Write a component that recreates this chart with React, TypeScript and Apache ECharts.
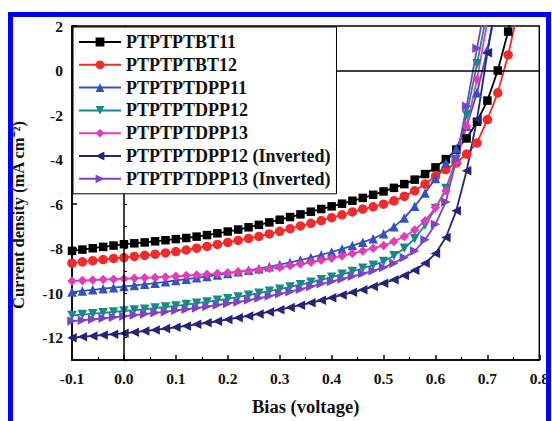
import React, { useEffect, useRef } from "react";
import * as echarts from "echarts";

const voltage = [
  -0.1, -0.08, -0.06, -0.04, -0.02, 0.0, 0.02, 0.04, 0.06, 0.08, 0.1, 0.12, 0.14, 0.16, 0.18, 0.2,
  0.22, 0.24, 0.26, 0.28, 0.3, 0.32, 0.34, 0.36, 0.38, 0.4, 0.42, 0.44, 0.46, 0.48, 0.5, 0.52,
  0.54, 0.56, 0.58, 0.6, 0.62, 0.64, 0.66, 0.68, 0.7, 0.72, 0.74, 0.76,
];

const bt11 = [
  -8.1, -8.04, -7.98, -7.92, -7.86, -7.8, -7.76, -7.72, -7.67, -7.62, -7.57, -7.52, -7.46, -7.39, -7.31, -7.23,
  -7.14, -7.04, -6.93, -6.82, -6.7, -6.58, -6.46, -6.34, -6.22, -6.1, -5.98, -5.85, -5.72, -5.58, -5.43, -5.27,
  -5.1, -4.9, -4.65, -4.35, -3.98, -3.55, -3.05, -2.3, -1.35, 0.0, 1.75, 3.6,
];
const bt12 = [
  -8.65, -8.59, -8.54, -8.49, -8.44, -8.4, -8.35, -8.3, -8.25, -8.19, -8.13, -8.06, -7.98, -7.9, -7.81, -7.72,
  -7.63, -7.54, -7.45, -7.34, -7.22, -7.1, -6.98, -6.86, -6.74, -6.61, -6.48, -6.35, -6.22, -6.12, -6.0, -5.85,
  -5.65, -5.4, -5.1, -4.75, -4.45, -4.15, -3.75, -3.25, -2.2, -1.0, 0.7, 2.8,
];
const dpp11 = [
  -9.95, -9.9, -9.85, -9.8, -9.75, -9.7, -9.65, -9.6, -9.55, -9.49, -9.43, -9.37, -9.31, -9.25, -9.18, -9.11,
  -9.04, -8.97, -8.9, -8.81, -8.72, -8.62, -8.51, -8.4, -8.28, -8.15, -8.01, -7.86, -7.71, -7.55, -7.33, -7.02,
  -6.62, -6.1, -5.5, -4.85, -4.15, -3.5, -2.5, -1.0, 0.95, 3.2,
];
const dpp12 = [
  -11.0, -10.96, -10.92, -10.88, -10.84, -10.8, -10.76, -10.72, -10.67, -10.62, -10.57, -10.51, -10.45, -10.39, -10.32, -10.25,
  -10.17, -10.09, -10.0, -9.91, -9.82, -9.72, -9.62, -9.51, -9.4, -9.28, -9.15, -9.02, -8.88, -8.74, -8.58, -8.32,
  -7.98, -7.55, -6.95, -6.2, -5.3, -4.0, -2.0, 0.3, 2.7,
];
const dpp13 = [
  -9.45, -9.43, -9.41, -9.39, -9.37, -9.35, -9.33, -9.31, -9.29, -9.27, -9.24, -9.21, -9.18, -9.15, -9.12, -9.08,
  -9.04, -9.0, -8.95, -8.89, -8.83, -8.76, -8.69, -8.61, -8.52, -8.43, -8.33, -8.22, -8.1, -7.98, -7.86, -7.68,
  -7.45, -7.16, -6.75, -6.15, -5.4, -4.1, -2.5, -0.4, 2.2,
];
const dpp12inv = [
  -12.0, -11.96, -11.92, -11.88, -11.84, -11.8, -11.75, -11.7, -11.65, -11.59, -11.53, -11.47, -11.4, -11.33, -11.26, -11.18,
  -11.1, -11.02, -10.93, -10.84, -10.74, -10.64, -10.54, -10.43, -10.32, -10.2, -10.08, -9.96, -9.84, -9.7, -9.55, -9.4,
  -9.2, -8.97, -8.66, -8.22, -7.5, -6.3, -4.5, -2.2, 0.8, 3.5,
];
const dpp13inv = [
  -11.25, -11.21, -11.17, -11.13, -11.08, -11.03, -10.98, -10.93, -10.88, -10.83, -10.77, -10.72, -10.66, -10.6, -10.53, -10.46,
  -10.39, -10.31, -10.22, -10.13, -10.03, -9.93, -9.82, -9.7, -9.58, -9.47, -9.36, -9.24, -9.12, -8.99, -8.85, -8.65,
  -8.4, -8.1, -7.6, -6.9, -5.9, -4.0, -1.6, 1.0, 3.5,
];

const seriesNames = [
  "PTPTPTBT11",
  "PTPTPTBT12",
  "PTPTPTDPP11",
  "PTPTPTDPP12",
  "PTPTPTDPP13",
  "PTPTPTDPP12 (Inverted)",
  "PTPTPTDPP13 (Inverted)",
];
const seriesValues = [bt11, bt12, dpp11, dpp12, dpp13, dpp12inv, dpp13inv];
const seriesColors = ["#000000", "#f42a2a", "#3550c0", "#178a88", "#e23cb8", "#24247a", "#7d43c6"];
const seriesSymbols = [
  "rect",
  "circle",
  "triangle",
  "path://M0,0 L10,0 L5,10 Z",
  "diamond",
  "path://M10,0 L10,10 L0,5 Z",
  "path://M0,0 L0,10 L10,5 Z",
];

const xTicks = [-0.1, 0.0, 0.1, 0.2, 0.3, 0.4, 0.5, 0.6, 0.7, 0.8];
const yTickLabels = [-12, -10, -8, -6, -4, -2, 0, 2];

const FONT = "'Liberation Serif', 'Times New Roman', serif";

export default function App() {
  const ref = useRef<HTMLDivElement>(null);
  useEffect(() => {
    if (!ref.current) return;
    const chart = echarts.init(ref.current, undefined, { renderer: "svg" });
    const series: any[] = seriesNames.map((name, i) => ({
      name,
      type: "line",
      data: seriesValues[i].map((v, k) => [voltage[k], v]),
      symbol: seriesSymbols[i],
      symbolSize: i === 0 ? 8.5 : 9.5,
      showSymbol: true,
      clip: true,
      itemStyle: { color: seriesColors[i] },
      lineStyle: { color: seriesColors[i], width: 1.8 },
      z: 3,
    }));
    series[0].markLine = {
      silent: true,
      symbol: "none",
      label: { show: false },
      lineStyle: { color: "#000", width: 1.5, type: "solid" },
      data: [{ xAxis: 0 }, { yAxis: 0 }],
    };
    chart.setOption({
      animation: false,
      backgroundColor: "#ffffff",
      graphic: [
        {
          type: "rect",
          shape: { x: 10.5, y: 14.5, width: 538, height: 430 },
          style: { fill: "none", stroke: "#0000ff", lineWidth: 5 },
          z: 100,
          silent: true,
        },
      ],
      grid: {
        left: 72,
        right: 11,
        top: 26,
        bottom: 55,
        show: true,
        borderColor: "#000",
        borderWidth: 1.5,
        backgroundColor: "transparent",
      },
      legend: {
        orient: "vertical",
        left: 73,
        top: 27,
        backgroundColor: "#ffffff",
        borderColor: "#000",
        borderWidth: 1,
        borderRadius: 0,
        padding: [6, 6, 6, 5],
        itemWidth: 42,
        itemHeight: 11,
        itemGap: 4.8,
        data: seriesNames,
        textStyle: { fontFamily: FONT, fontWeight: "bold", fontSize: 18, color: "#111" },
        z: 10,
      },
      xAxis: {
        type: "value",
        min: -0.1,
        max: 0.8,
        interval: 0.1,
        name: "Bias (voltage)",
        nameLocation: "middle",
        nameGap: 37,
        nameTextStyle: { fontFamily: FONT, fontWeight: "bold", fontSize: 18.5, color: "#111" },
        axisLine: { show: true, onZero: false, lineStyle: { color: "#000", width: 1.5 } },
        axisTick: { show: true, inside: true, length: 5, lineStyle: { color: "#000", width: 1.5 } },
        minorTick: { show: true, splitNumber: 2, length: 3, lineStyle: { color: "#000", width: 1.2 } },
        splitLine: { show: false },
        axisLabel: {
          margin: 10,
          fontFamily: FONT,
          fontWeight: "bold",
          fontSize: 15.5,
          color: "#111",
          formatter: (v: number) => {
            const t = xTicks.find((x) => Math.abs(x - v) < 1e-6);
            return t === undefined ? "" : t.toFixed(1);
          },
        },
      },
      yAxis: [
        {
          type: "value",
          min: -13,
          max: 2,
          interval: 1,
          name: "Current density (mA cm⁻²)",
          nameLocation: "middle",
          nameGap: 45,
          nameTextStyle: {
            fontFamily: FONT,
            fontWeight: "bold",
            fontSize: 16.5,
            color: "#111",
            padding: [0, 44, 0, 0],
          },
          axisLine: { show: true, onZero: false, lineStyle: { color: "#000", width: 1.5 } },
          axisTick: { show: true, inside: true, length: 5, customValues: yTickLabels, lineStyle: { color: "#000", width: 1.5 } },
          splitLine: { show: false },
          axisLabel: {
            margin: 9,
            fontFamily: FONT,
            fontWeight: "bold",
            fontSize: 15.5,
            color: "#111",
            customValues: yTickLabels,
            formatter: (v: number) => String(Math.round(v)),
          },
        },
        {
          type: "value",
          min: -13,
          max: 2,
          interval: 1,
          position: "left",
          axisLine: { show: false },
          axisTick: { show: true, inside: true, length: 3, lineStyle: { color: "#000", width: 1.2 } },
          axisLabel: { show: false },
          splitLine: { show: false },
        },
      ],
      series,
    });
    return () => chart.dispose();
  }, []);
  return (
    <div
      ref={ref}
      style={{ position: "fixed", left: 0, top: 0, width: 552, height: 421, background: "#fff" }}
    />
  );
}
